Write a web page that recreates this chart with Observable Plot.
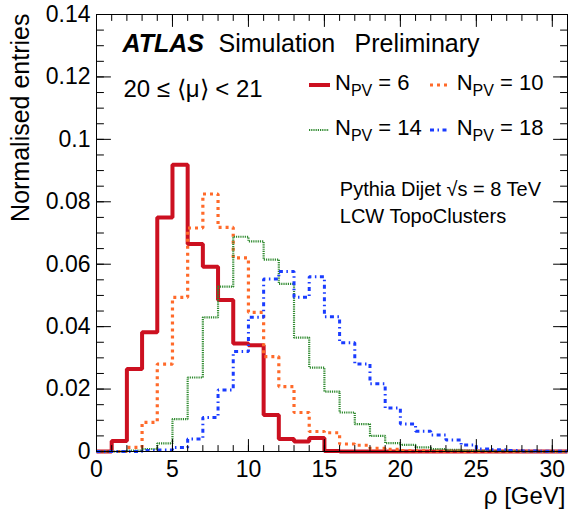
<!DOCTYPE html>
<html><head><meta charset="utf-8">
<script src="https://cdn.jsdelivr.net/npm/d3@7"></script>
<script src="https://cdn.jsdelivr.net/npm/@observablehq/plot@0.6"></script>
<style>html,body{margin:0;padding:0;background:#fff} svg{display:block}</style>
</head><body><div id="chart"></div>
<script>
// bin low edges of rho [GeV] (1 GeV bins)
const rhoBinLow = [0,1,2,3,4,5,6,7,8,9,10,11,12,13,14,15,16,17,18,19,20,21,22,23,24,25,26,27,28,29,30];
// normalised entries per bin
const npv6  = [0,0.0034,0.0264,0.0382,0.0750,0.0919,0.0665,0.0592,0.0485,0.0346,0.0340,0.0117,0.0040,0.0032,0.0043,0.0002,0,0,0,0,0,0,0,0,0,0,0,0,0,0,0];
const npv10 = [0,0,0.0013,0.0093,0.0280,0.0494,0.0716,0.0825,0.0718,0.0620,0.0446,0.0304,0.0208,0.0125,0.0064,0.0060,0.0024,0.0020,0.0010,0.0007,0.0003,0.0002,0.0001,0.0001,0,0,0,0,0,0,0];
const npv14 = [0,0,0.0003,0.0008,0.0026,0.0104,0.0237,0.0430,0.0528,0.0688,0.0673,0.0615,0.0537,0.0365,0.0269,0.0192,0.0125,0.0088,0.0050,0.0027,0.0021,0.0013,0.0008,0.0005,0.0003,0.0002,0.0001,0.0001,0,0,0];
const npv18 = [0,0,0,0.0003,0.0005,0.0013,0.0040,0.0109,0.0197,0.0320,0.0430,0.0553,0.0577,0.0494,0.0560,0.0432,0.0348,0.0280,0.0217,0.0139,0.0088,0.0065,0.0053,0.0037,0.0021,0.0008,0.0006,0.0003,0.0002,0.0001,0.0001];
const seriesNames = ["6","10","14","18"];
// ticks
const xMajor = [0,5,10,15,20,25,30];
const xMinor = [0,1,2,3,4,5,6,7,8,9,10,11,12,13,14,15,16,17,18,19,20,21,22,23,24,25,26,27,28,29,30,31];
const yMajor = [0,0.02,0.04,0.06,0.08,0.10,0.12,0.14];
const yMajorLabels = ["0","0.02","0.04","0.06","0.08","0.1","0.12","0.14"];
const yMinor = [0,0.005,0.01,0.015,0.02,0.025,0.03,0.035,0.04,0.045,0.05,0.055,0.06,0.065,0.07,0.075,0.08,0.085,0.09,0.095,0.1,0.105,0.11,0.115,0.12,0.125,0.13,0.135,0.14];

const FONT = "'Liberation Sans', Arial, Helvetica, sans-serif";
const styles = [
  {color:"#cc1020", w:4,   dash:null},
  {color:"#ff6a2a", w:3.2, dash:"3,4"},
  {color:"#2f8a2f", w:2.2, dash:"1.2,1"},
  {color:"#1a3cff", w:3,   dash:"4,3.5,1.5,3.5"}
];
function steps(vals){
  const pts = rhoBinLow.map((x,i)=>({x, y: vals[i]}));
  pts.push({x: rhoBinLow[rhoBinLow.length-1] + 1, y: vals[vals.length-1]});
  return pts;
}
const allSeries = [npv6, npv10, npv14, npv18];
const lineMarks = allSeries.map((s,k)=>Plot.line(steps(s), {
  x:"x", y:"y", curve:"step-after", stroke: styles[k].color, strokeWidth: styles[k].w,
  strokeDasharray: styles[k].dash, strokeLinecap:"butt", strokeLinejoin:"miter"
}));

const tickShape = {draw(context, l) { context.moveTo(0, 0); context.lineTo(0, -l); }};
const tk = (data, ch, frameAnchor, rotate, length) => Plot.vector(data, {
  [ch]: d=>d, frameAnchor, rotate, length, anchor:"start", shape: tickShape, stroke:"black", strokeWidth:1
});

const txt = (s, o) => Plot.text([s], Object.assign({text: d=>d, fill:"black", fontFamily: FONT}, o));

const chart = Plot.plot({
  width:569, height:510, marginLeft:96, marginRight:2, marginTop:14, marginBottom:59,
  style:{fontFamily: FONT, background:"white", color:"black", overflow:"visible"},
  x:{domain:[0,31]}, y:{domain:[0,0.14]},
  marks:[
    ...lineMarks,
    Plot.frame({stroke:"black", strokeWidth:1}),
    // labels
    Plot.axisX({anchor:"bottom", ticks:xMajor, tickSize:0, tickPadding:9, fontSize:23, tickFormat:d=>String(d), label:null}),
    Plot.axisY({anchor:"left", ticks:yMajor, tickSize:0, tickPadding:6, fontSize:23, tickFormat:(d,i)=>yMajorLabels[i], label:null}),
    // inward ticks, all four sides
    tk(xMajor, "x", "bottom", 0, 12),
    tk(xMinor, "x", "bottom", 0, 6),
    tk(xMajor, "x", "top", 180, 12),
    tk(xMinor, "x", "top", 180, 6),
    tk(yMajor, "y", "left", 90, 14),
    tk(yMinor, "y", "left", 90, 7),
    tk(yMajor, "y", "right", -90, 14),
    tk(yMinor, "y", "right", -90, 7),
    // titles & annotations
    txt("ρ [GeV]", {frameAnchor:"bottom-right", textAnchor:"end", lineAnchor:"bottom", dx:-2, dy:52, fontSize:24}),
    txt("Normalised entries", {frameAnchor:"top-left", textAnchor:"end", lineAnchor:"middle", rotate:-90, dx:-76, dy:-1, fontSize:25}),
    txt("ATLAS", {frameAnchor:"top-left", textAnchor:"start", lineAnchor:"bottom", dx:26, dy:37.7, fontSize:25, fontWeight:"bold", fontStyle:"italic"}),
    txt("Simulation", {frameAnchor:"top-left", textAnchor:"start", lineAnchor:"bottom", dx:122, dy:37.7, fontSize:25}),
    txt("Preliminary", {frameAnchor:"top-left", textAnchor:"start", lineAnchor:"bottom", dx:258, dy:37.7, fontSize:25}),
    txt("20 ≤ ⟨μ⟩ < 21", {frameAnchor:"top-left", textAnchor:"start", lineAnchor:"bottom", dx:27, dy:82.7, fontSize:24}),
    txt("Pythia Dijet √s = 8 TeV", {frameAnchor:"top-left", textAnchor:"start", lineAnchor:"bottom", dx:243.3, dy:181.7, fontSize:20}),
    txt("LCW TopoClusters", {frameAnchor:"top-left", textAnchor:"start", lineAnchor:"bottom", dx:243.3, dy:208.3, fontSize:20})
  ]
});

// legend (2 x 2) with N_PV subscripts
const svg = d3.select(chart);
const legendPos = [
  {x1:309, x2:330, y:85,  tx:335,   ty:90},
  {x1:430, x2:447, y:85,  tx:456.7, ty:90},
  {x1:309, x2:329, y:130, tx:335,   ty:135},
  {x1:430, x2:448, y:130, tx:456.7, ty:135}
];
const lg = svg.append("g");
seriesNames.forEach((n,k)=>{
  const p = legendPos[k], st = styles[k];
  lg.append("line").attr("x1",p.x1).attr("x2",p.x2).attr("y1",p.y).attr("y2",p.y)
    .attr("stroke",st.color).attr("stroke-width",st.w).attr("stroke-dasharray",st.dash);
  const t = lg.append("text").attr("x",p.tx).attr("y",p.ty).attr("font-family",FONT)
    .attr("text-anchor","start").attr("font-size",22).attr("fill","black").style("white-space","pre");
  t.append("tspan").text("N");
  t.append("tspan").attr("font-size",16).attr("dy",6).text("PV");
  t.append("tspan").attr("dy",-6).text(" = " + n);
});

document.getElementById("chart").appendChild(chart);
</script>
</body></html>
